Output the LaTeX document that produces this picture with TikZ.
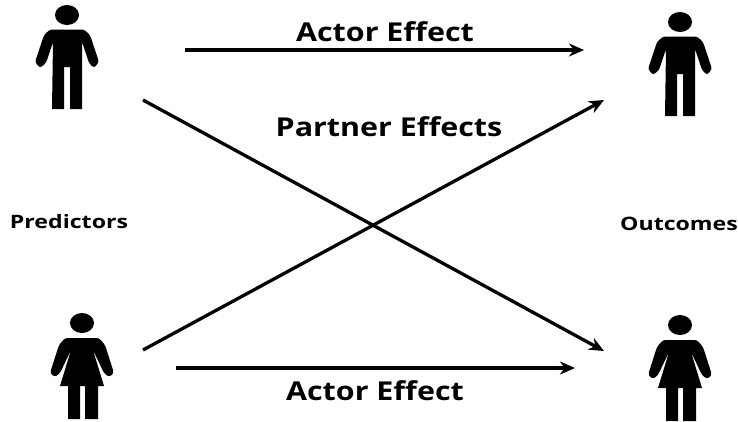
\documentclass[tikz,border=0pt]{standalone}
\usepackage{fontspec}
\setmainfont{Open Sans}
\newfontfamily\widefont[FakeStretch=1.25]{Open Sans}
\newfontfamily\effectfont[FakeStretch=1.17]{Open Sans}
\usetikzlibrary{arrows.meta}
\tikzset{
  man/.pic={
    \fill (0,0) ellipse [x radius=12,y radius=10];
    \fill[rounded corners=2.5pt] (-17,14.5) -- (-23,20) -- (-32,47) -- (-27,53) -- (-21,48) -- (-14,27)
      [sharp corners] -- (-15,94) -- (-3,94) -- (-3,52) -- (3,52) -- (3,94) -- (15,94) -- (15,27)
      [rounded corners=2.5pt] -- (22,48) -- (27,53) -- (32,47) -- (23,20) -- (17,14.5) -- cycle;
  },
  woman/.pic={
    \fill (0,0) ellipse [x radius=12,y radius=10];
    \fill[rounded corners=2.5pt] (-17,15) -- (-23,22) -- (-32,50) -- (-27,54) -- (-22,50) -- (-11,27)
      [sharp corners] -- (-22,63) -- (-14,63) -- (-14,96) -- (-2,96) -- (-2,63) -- (3,63) -- (3,96)
      -- (16,96) -- (16,63) -- (22,63) -- (11,27)
      [rounded corners=2.5pt] -- (22,50) -- (27,54) -- (32,50) -- (23,22) -- (17,15) -- cycle;
  }
}
\begin{document}
\begin{tikzpicture}[
  x=1pt,y=-1pt,
  effect/.style={font=\effectfont\fontsize{26}{30}\selectfont\bfseries},
  side/.style={font=\widefont\fontsize{18.5}{22}\selectfont\bfseries},
  arr/.style={-{Stealth[length=15pt,width=13pt]},line width=3.3pt}]
\useasboundingbox (0,0) rectangle (738,421);
% people
\pic at (67,15) {man};
\pic at (680,22) {man};
\pic at (82,323) {woman};
\pic at (680,325) {woman};
% ends of the arrows
\coordinate (a1s) at (185,50);
\coordinate (a1e) at (584,50);
\coordinate (a2s) at (176,368);
\coordinate (a2e) at (575,368);
\coordinate (p1s) at (143,100);
\coordinate (p1e) at (604,351);
\coordinate (p2s) at (143,350);
\coordinate (p2e) at (604,100);
\draw[arr] (a1s) -- (a1e);
\draw[arr] (a2s) -- (a2e);
\draw[arr] (p1s) -- (p1e);
\draw[arr] (p2s) -- (p2e);
% labels
\node[effect] (actortop) at (385,32) {Actor Effect};
\node[effect] (partner) at (389,127) {Partner Effects};
\node[effect] (actorbot) at (375,391) {Actor Effect};
\node[side] (pred) at (69,222) {Predictors};
\node[side] (outc) at (679,224) {Outcomes};
\end{tikzpicture}
\end{document}
